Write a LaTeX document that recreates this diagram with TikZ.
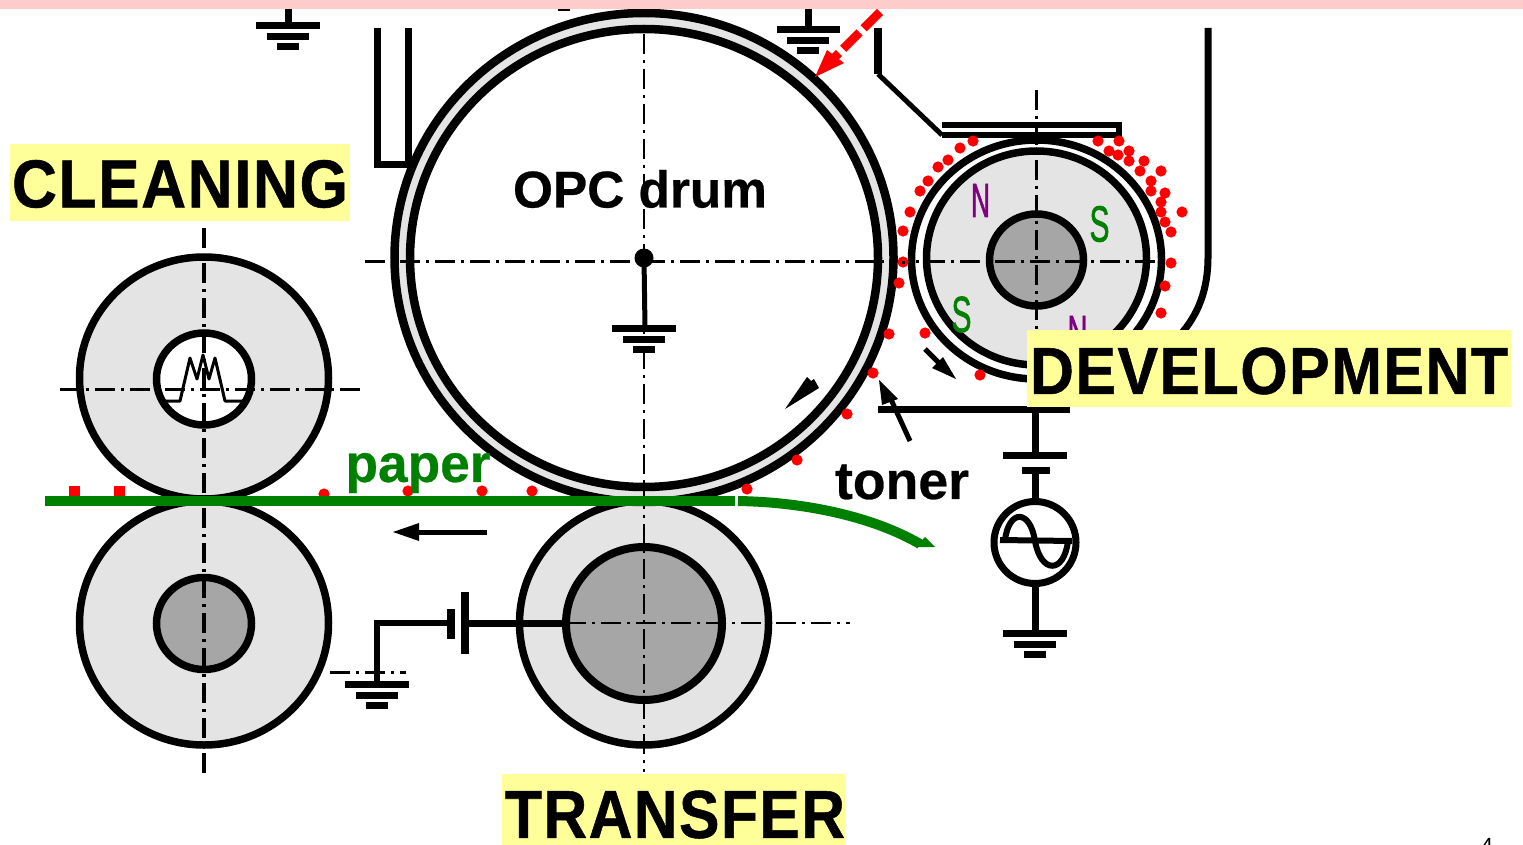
\documentclass[tikz,border=0pt]{standalone}
\usepackage{graphicx}
\usepackage{fontspec}
\setmainfont{Liberation Sans}
\setsansfont{Liberation Sans}
\newfontfamily\heavyfont{Liberation Sans}[BoldFeatures={FakeBold=0.8,LetterSpace=2.5}]
\newfontfamily\medfont{Liberation Sans}[BoldFeatures={FakeBold=0.5}]
\newfontfamily\polefont{Liberation Sans}[FakeBold=1.5]
\newfontfamily\pagefont{Liberation Sans}
\definecolor{pinkbar}{HTML}{FFCCCC}
\definecolor{lightg}{HTML}{E4E4E4}
\definecolor{midg}{HTML}{A6A6A6}
\definecolor{yel}{HTML}{FFFF99}
\definecolor{grn}{HTML}{008000}
\definecolor{pur}{HTML}{800080}
\tikzset{
  cline/.style={line width=3pt,dash pattern=on 20pt off 6pt on 3pt off 6pt},
  wire/.style={line width=7pt},
  gbar/.style={line width=7pt},
  banner/.style={inner sep=0pt,text=black,font=\heavyfont\bfseries\fontsize{60}{64}\selectfont},
  lab/.style={inner sep=0pt,font=\medfont\bfseries\fontsize{50}{54}\selectfont},
  pole/.style={inner sep=0pt,font=\polefont\fontsize{40}{44}\selectfont},
}
\newcommand{\grd}[2]{%
  \draw[gbar] (#1-32,#2)--(#1+32,#2);
  \draw[gbar] (#1-21,#2+11)--(#1+21,#2+11);
  \draw[gbar] (#1-11,#2+21)--(#1+11,#2+21);}
\begin{document}
\begin{tikzpicture}[x=1pt,y=-1pt]
\useasboundingbox (0,0) rectangle (1523,845);
% rollers
\fill[lightg,draw=black,line width=7.5pt] (204,378) ellipse[x radius=124.5,y radius=121];
\fill[white,draw=black,line width=7.5pt] (204,379) ellipse[x radius=47.5,y radius=46];
\fill[lightg,draw=black,line width=7.5pt] (204,623) ellipse[x radius=124.5,y radius=122];
\fill[midg,draw=black,line width=7.5pt] (204,623.5) ellipse[x radius=47.5,y radius=46];
\fill[lightg,draw=black,line width=7.5pt] (644,623) ellipse[x radius=124.5,y radius=122];
\fill[midg,draw=black,line width=8pt] (644,623.5) ellipse[x radius=78,y radius=76.5];
% cleaner housing
\draw[wire,miter limit=4] (408,28)--(408,165)--(377,165)--(377,28);
% drum
\fill[lightg,draw=black,line width=8.5pt] (644,257.5) ellipse[x radius=249.5,y radius=244.5];
\fill[white,draw=black,line width=8.5pt] (644,258) ellipse[x radius=234,y radius=229];
% developer
\fill[white,draw=black,line width=7.5pt] (1036.5,259.5) ellipse[x radius=125,y radius=119.5];
\fill[lightg,draw=black,line width=7.5pt] (1036.5,258) ellipse[x radius=110,y radius=107];
\fill[midg,draw=black,line width=7.5pt] (1036.5,260) ellipse[x radius=47,y radius=46];
% heater
\draw[line width=3pt,line join=round] (166,401)--(180,401)--(190,358)--(197,379)--(203,355)--(209,379)--(215,358)--(225,401)--(243,401);
% centre lines
\draw[cline] (365,261)--(1170,261);
\draw[cline,line width=2.4pt] (644,34)--(644,772);
\draw[cline,line width=3.5pt] (204,228)--(204,776);
\draw[cline] (60,389)--(365,389);
\draw[cline,line width=2.4pt] (566,623)--(850,623);
\draw[cline] (330,672)--(406,672);
\draw[cline] (1036,90)--(1036,372);
\fill[pinkbar] (0,0) rectangle (1523,9);
\draw[line width=2.6pt] (558,10)--(570,10);
% top grounds
\draw[line width=7pt] (288,9)--(288,26);
\grd{288}{26}
\draw[line width=7pt] (808,9)--(808,30);
\draw[gbar] (777,30)--(840,30);
\draw[gbar] (787,41)--(829,41);
\draw[gbar] (797,51)--(819,51);
% drum ground
\fill (644,258) circle[radius=9.5];
\draw[line width=5pt] (644,258)--(645,328);
\grd{644}{328}
% developer housing
\draw[line width=8pt] (878,28)--(878,74);
\draw[line width=5pt] (878,74)--(942,135);
\draw[line width=6pt] (942,125)--(1122,125);
\draw[line width=6pt] (942,135)--(1122,135);
\draw[line width=6pt] (1119,123)--(1119,138);
\draw[line width=7pt] (1208,28)--(1208,257) .. controls (1208,290) and (1198,315) .. (1180,335);
\draw[line width=7pt] (878,409)--(1070,409);
% AC supply
\draw[line width=7pt] (1035,409)--(1035,455);
\draw[gbar] (1003,455)--(1067,455);
\draw[gbar] (1022,470)--(1050,470);
\draw[line width=7pt] (1035,470)--(1035,500);
\draw[fill=white,line width=7pt] (1035,542.5) circle[radius=41];
\draw[line width=7pt] (1035,585)--(1035,633);
\grd{1035}{633}
\draw[line width=6pt] (1000,540)--(1072,541);
\draw[line width=6pt] (1005,540)  .. controls (1009,509) and (1030,509) .. (1035,541) .. controls (1041,574) and (1064,574) .. (1068,541);
% transfer bias
\draw[line width=7pt] (565,623)--(465,623);
\draw[line width=8pt] (465,592)--(465,654);
\draw[line width=8pt] (451,609)--(451,639);
\draw[line width=6pt,miter limit=4] (451,623)--(377,623)--(377,684);
\grd{377}{684}
% toner dots
\foreach \p in {(324,494),(408,491),(482,491),(532,491),(747,489),(797,460),(847,414),(873,373),(889,334),(925,333),(980,375),
 (899,283),(903,262),(903,231),(910,212),(920,191),(928,181),(938,167),(948,160),(960,148),(973,141),
 (1098,141),(1119,141),(1109,151),(1129,151),(1118,155),(1129,161),(1144,161),(1140,171),(1161,171),(1151,181),(1151,191),(1165,193),(1161,202),(1182,212),(1161,212),(1165,222),(1171,232),(1171,263),(1165,286),(1161,313)}
  {\fill[red] \p circle[radius=5.6];}
\fill (902,260.5) rectangle (905,263.5);
\fill[red] (69,486) rectangle (80,496);
\fill[red] (114,486) rectangle (125,496);
% paper
\fill[grn] (45,496) rectangle (735,506);
\draw[grn,line width=10pt] (738,501) .. controls (800,502) and (870,515) .. (920,544);
\fill[grn] (916,547) -- (925,537) -- (935,547) -- cycle;
% arrows
\draw[line width=5pt] (487,532)--(415,532);
\fill (393,532)--(419,523)--(419,541)--cycle;
\fill (785,409)--(807,377)--(811,381)--(814,379)--(819,388)--cycle;
\draw[line width=5pt] (925,349)--(945,369);
\fill (956,379)--(932,368)--(943,357)--cycle;
\draw[line width=5pt] (910,441)--(888,393);
\fill (879,380)--(898,399)--(882,405)--cycle;
\draw[red,line width=8.5pt,dash pattern=on 23pt off 6pt] (880,12)--(828,64);
\fill[red] (815,77)--(827,50)--(844,63)--cycle;
% poles
\node[pole,text=pur] (n1) at (980.5,200.5) {\resizebox*{19pt}{33pt}{N}};
\node[pole,text=grn] (s1) at (1099.5,224) {\resizebox*{20pt}{36pt}{S}};
\node[pole,text=grn] (s2) at (961.5,314.5) {\resizebox*{20pt}{36pt}{S}};
\node[pole,text=pur] (n2) at (1077.5,332.5) {\resizebox*{20pt}{33pt}{N}};
% banners
\fill[yel] (10,144) rectangle (350,221);
\fill[yel] (1027,330) rectangle (1511,407);
\fill[yel] (502,774) rectangle (845,845);
\node[banner] (clean) at (180,184) {\resizebox*{336pt}{48pt}{CLEANING}};
\node[banner] (dev) at (1269,371) {\resizebox*{478pt}{47pt}{DEVELOPMENT}};
\node[banner] (trans) at (675,814.5) {\resizebox*{340pt}{48pt}{TRANSFER}};
\node[lab] (opc) at (640,189) {\resizebox*{254pt}{38pt}{OPC drum}};
\node[lab] (ton) at (902,482) {\resizebox*{134pt}{35pt}{toner}};
\node[lab,text=grn] (pap) at (418,473) {\resizebox*{145pt}{40pt}{paper}};
\node[inner sep=0pt,anchor=base,font=\pagefont\fontsize{22}{24}\selectfont] (pg) at (1487,853) {4};
\end{tikzpicture}
\end{document}
